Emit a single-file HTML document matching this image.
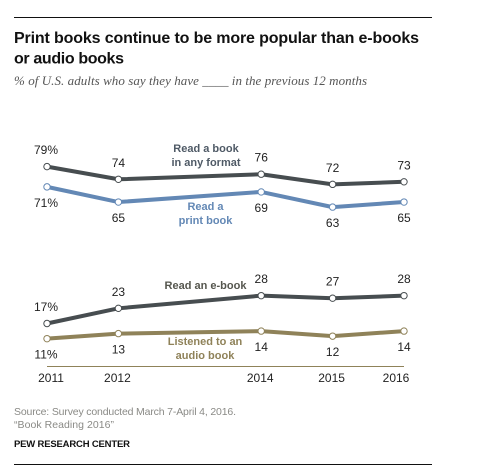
<!DOCTYPE html>
<html lang="en">
<head>
<meta charset="utf-8">
<title>Print books continue to be more popular</title>
<style>
html,body{margin:0;padding:0;background:#fff;width:483px;height:474px;overflow:hidden}
svg{display:block;font-family:"Liberation Sans",sans-serif}
</style>
</head>
<body>
<svg id="chart" width="483" height="474" viewBox="0 0 483 474" xmlns="http://www.w3.org/2000/svg">
  <rect width="483" height="474" fill="#fff"/>
  <line x1="14" x2="432" y1="17.5" y2="17.5" stroke="#111" stroke-width="1"/>
  <text x="14" y="43" font-size="16" font-weight="700" fill="#111" textLength="405">Print books continue to be more popular than e-books</text>
  <text x="14" y="63.5" font-size="16" font-weight="700" fill="#111" textLength="110">or audio books</text>
  <text x="14" y="85" font-family="'Liberation Serif',serif" font-style="italic" font-size="13" fill="#555" textLength="353">% of U.S. adults who say they have ____ in the previous 12 months</text>

  <line x1="47" x2="404" y1="366.5" y2="366.5" stroke="#8f8259" stroke-width="1"/>

  <g id="marks"></g>

  <g font-size="11" font-weight="700" text-anchor="middle">
    <text x="206" y="152" fill="#4f5a66">Read a book</text>
    <text x="206" y="166" fill="#4f5a66">in any format</text>
    <text x="205.5" y="210" fill="#6388b5">Read a</text>
    <text x="205.5" y="224" fill="#6388b5">print book</text>
    <text x="205.5" y="289" fill="#55564e">Read an e-book</text>
    <text x="205" y="345" fill="#8f8259">Listened to an</text>
    <text x="205" y="359" fill="#8f8259">audio book</text>
  </g>

  <text x="14" y="415" font-size="10.5" fill="#8a8a86" textLength="222">Source: Survey conducted March 7-April 4, 2016.</text>
  <text x="14" y="428" font-size="10.5" fill="#8a8a86" textLength="100">“Book Reading 2016”</text>
  <text x="14" y="447" font-size="9.5" font-weight="700" fill="#111" textLength="116">PEW RESEARCH CENTER</text>
  <line x1="14" x2="432" y1="464.5" y2="464.5" stroke="#111" stroke-width="1"/>
</svg>
<script>
const years = [2011, 2012, 2014, 2015, 2016];
const anyFormat = [79, 74, 76, 72, 73];
const printBook = [71, 65, 69, 63, 65];
const eBook = [17, 23, 28, 27, 28];
const audioBook = [11, 13, 14, 12, 14];

const seriesList = [
  { key: 'any-format', values: anyFormat, color: '#474d50', labelAbove: true },
  { key: 'print-book', values: printBook, color: '#6388b5', labelAbove: false },
  { key: 'e-book', values: eBook, color: '#474d50', labelAbove: true },
  { key: 'audio-book', values: audioBook, color: '#8f8259', labelAbove: false }
];

const NS = 'http://www.w3.org/2000/svg';
const marks = document.getElementById('marks');
const xScale = function (year) { return 47 + (year - 2011) * 71.4; };
const yScale = function (value) { return 366.5 - value * 2.53; };

function make(tag, attrs, parent) {
  const el = document.createElementNS(NS, tag);
  Object.keys(attrs).forEach(function (k) { el.setAttribute(k, attrs[k]); });
  parent.appendChild(el);
  return el;
}

seriesList.forEach(function (s) {
  const pts = s.values.map(function (v, i) { return xScale(years[i]) + ',' + yScale(v); }).join(' ');
  const line = make('polyline', { points: pts, fill: 'none', stroke: s.color, 'stroke-width': 4, 'stroke-linejoin': 'round' }, marks);
  
  
});

seriesList.forEach(function (s) {
  s.values.forEach(function (v, i) {
    const cx = xScale(years[i]);
    const cy = yScale(v);
    const dot = make('circle', { cx: cx, cy: cy, r: 3.2, fill: '#fff', stroke: s.color, 'stroke-width': 1 }, marks);
    
    
    const label = make('text', { x: i === 0 ? cx - 1 : cx, y: cy + (s.labelAbove ? -12.5 : 20), 'font-size': 12, 'text-anchor': 'middle', fill: '#222' }, marks);
    label.textContent = v + (i === 0 ? '%' : '');
    
    
  });
});

years.forEach(function (year, i) {
  const edgeShift = i === 0 ? 4 : (i === years.length - 1 ? -8 : -1);
  const tick = make('text', { x: xScale(year) + edgeShift, y: 382, 'font-size': 12, 'text-anchor': 'middle', fill: '#222' }, marks);
  tick.textContent = year;
  
  
});
</script>
</body>
</html>
